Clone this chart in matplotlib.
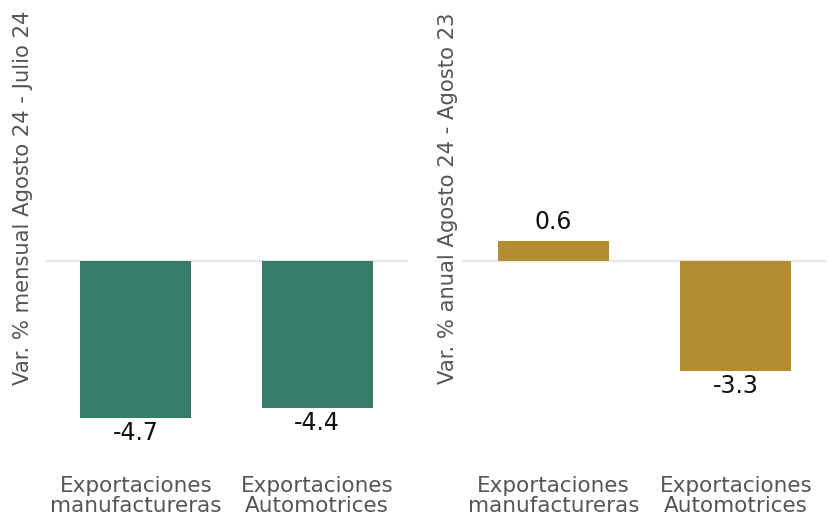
import matplotlib.pyplot as plt

categories = ["Exportaciones\nmanufactureras", "Exportaciones\nAutomotrices"]
mensual = [-4.7, -4.4]
anual = [0.6, -3.3]
ylabels = ["Var. % mensual Agosto 24 - Julio 24", "Var. % anual Agosto 24 - Agosto 23"]

green = "#367c68"
gold = "#b38e31"
grey_txt = "#555555"

plt.rcParams["font.family"] = "DejaVu Sans"

fig = plt.figure(figsize=(8.33, 5.19), dpi=100)
W, H = 833, 519

# axes positions in pixels (left, top, width, height)
ax1 = fig.add_axes([45 / W, 1 - 450 / H, 363 / W, 445 / H])
ax2 = fig.add_axes([462 / W, 1 - 450 / H, 365 / W, 445 / H])

panels = [
    (ax1, mensual, green, ylabels[0], -0.033),
    (ax2, anual, gold, ylabels[1], -0.011),
]

for ax, vals, col, ylab, lx in panels:
    x = range(len(vals))
    ax.bar(x, vals, width=0.61, color=col, zorder=2)
    ax.axhline(0, color="#e3e3e3", lw=1.2, zorder=1)
    ax.set_xlim(-0.5, 1.5)
    ax.set_ylim(-5.66, 7.66)
    for xi, v in zip(x, vals):
        if v >= 0:
            ax.annotate(f"{v:.1f}", (xi, v), xytext=(0, 5), textcoords="offset points",
                        ha="center", va="bottom", fontsize=17, color="#111111")
        else:
            ax.annotate(f"{v:.1f}", (xi, v), xytext=(0, -2), textcoords="offset points",
                        ha="center", va="top", fontsize=17, color="#111111")
    ax.set_xticks(list(x))
    ax.set_xticklabels(categories, fontsize=15.5, color=grey_txt, linespacing=0.95)
    ax.tick_params(axis="x", length=0, pad=19)
    ax.set_yticks([])
    ax.set_ylabel(ylab, fontsize=15.2, color=grey_txt)
    ax.yaxis.set_label_coords(lx, 0.566)
    for s in ax.spines.values():
        s.set_visible(False)

fig.savefig("out.png", dpi=100)
